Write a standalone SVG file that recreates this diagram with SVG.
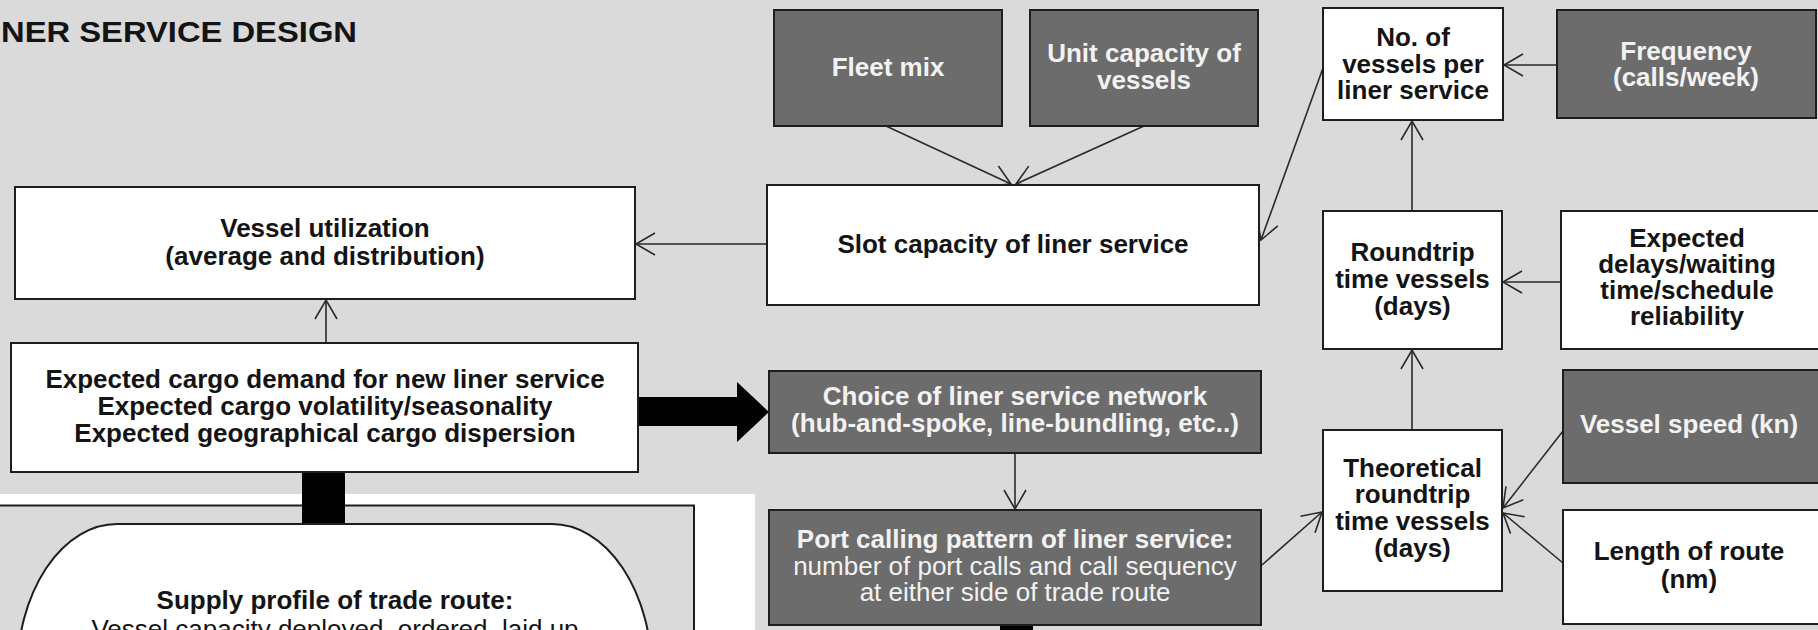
<svg xmlns="http://www.w3.org/2000/svg" width="1818" height="630" viewBox="0 0 1818 630">
<style>
text{font-family:"Liberation Sans",Arial,sans-serif;font-size:26px;text-anchor:middle;fill:#141414}
.b{font-weight:bold}
.r{font-weight:normal}
.lt{fill:#f2f2f2}
.wbox{fill:#ffffff;stroke:#1e1e1e;stroke-width:2}
.dbox{fill:#6c6c6c;stroke:#1e1e1e;stroke-width:2}
.con{fill:none;stroke:#2a2a2a;stroke-width:1.6;marker-end:url(#open)}
.thick{fill:#000000}
</style>
<defs>
<marker id="open" markerUnits="userSpaceOnUse" markerWidth="24" markerHeight="26" viewBox="-21 -13 23 26" refX="0" refY="0" orient="auto">
<path d="M-19,-11 L0,0 L-19,11" fill="none" stroke="#2a2a2a" stroke-width="1.6"/>
</marker>
</defs>
<rect x="0" y="0" width="1818" height="630" fill="#dadada"/>
<rect x="-10" y="494" width="765" height="150" fill="#ffffff"/>
<rect x="-10" y="505.5" width="704" height="150" fill="#dadada" stroke="#1e1e1e" stroke-width="2"/>
<text class="b" x="1" y="42" style="font-size:30px;text-anchor:start" textLength="356" lengthAdjust="spacingAndGlyphs">NER SERVICE DESIGN</text>

<g id="connectors">
<path class="con" d="M767,244 L636,244"/>
<path class="con" d="M886,126 L1011,184"/>
<path class="con" d="M1144,126 L1016,184"/>
<path class="con" d="M1323,68 L1261,240"/>
<path class="con" d="M1557,65 L1504,65"/>
<path class="con" d="M1412,211 L1412,121"/>
<path class="con" d="M1561,282 L1503,282"/>
<path class="con" d="M1412,430 L1412,350"/>
<path class="con" d="M1563,431 L1503,508"/>
<path class="con" d="M1563,563 L1503,513"/>
<path class="con" d="M1262,565 L1322,512"/>
<path class="con" d="M1015,453 L1015,509"/>
<path class="con" d="M326,343 L326,300"/>
<polygon class="thick" points="637,397 737,397 737,382 769,412 737,442 737,426 637,426"/>
<rect class="thick" x="302" y="472" width="43" height="53"/>
<rect class="thick" x="1000" y="625" width="33" height="10"/>
</g>

<g id="vessel-utilization">
<rect class="wbox" x="15" y="187" width="620" height="112"/>
<text class="b" x="325" y="237">Vessel utilization</text>
<text class="b" x="325" y="265">(average and distribution)</text>
</g>

<g id="expected-cargo">
<rect class="wbox" x="11" y="343" width="627" height="129"/>
<text class="b" x="325" y="388">Expected cargo demand for new liner service</text>
<text class="b" x="325" y="415">Expected cargo volatility/seasonality</text>
<text class="b" x="325" y="442">Expected geographical cargo dispersion</text>
</g>

<g id="supply-profile">
<path d="M17,700 V674 A100,150 0 0 1 117,524 H552 A100,150 0 0 1 652,674 V700 Z" fill="#ffffff" stroke="#1e1e1e" stroke-width="2"/>
<text class="b" x="335" y="609">Supply profile of trade route:</text>
<text class="r" x="335" y="638">Vessel capacity deployed, ordered, laid up</text>
</g>

<g id="fleet-mix">
<rect class="dbox" x="774" y="10" width="228" height="116"/>
<text class="b lt" x="888" y="76">Fleet mix</text>
</g>

<g id="unit-capacity">
<rect class="dbox" x="1030" y="10" width="228" height="116"/>
<text class="b lt" x="1144" y="62">Unit capacity of</text>
<text class="b lt" x="1144" y="89">vessels</text>
</g>

<g id="slot-capacity">
<rect class="wbox" x="767" y="185" width="492" height="120"/>
<text class="b" x="1013" y="253">Slot capacity of liner service</text>
</g>

<g id="no-of-vessels">
<rect class="wbox" x="1323" y="8" width="180" height="112"/>
<text class="b" x="1413" y="46">No. of</text>
<text class="b" x="1413" y="73">vessels per</text>
<text class="b" x="1413" y="99">liner service</text>
</g>

<g id="frequency">
<rect class="dbox" x="1557" y="10" width="259" height="108"/>
<text class="b lt" x="1686" y="60">Frequency</text>
<text class="b lt" x="1686" y="86">(calls/week)</text>
</g>

<g id="roundtrip">
<rect class="wbox" x="1323" y="211" width="179" height="138"/>
<text class="b" x="1412.5" y="261">Roundtrip</text>
<text class="b" x="1412.5" y="288">time vessels</text>
<text class="b" x="1412.5" y="315">(days)</text>
</g>

<g id="expected-delays">
<rect class="wbox" x="1561" y="211" width="262" height="138"/>
<text class="b" x="1687" y="247">Expected</text>
<text class="b" x="1687" y="273">delays/waiting</text>
<text class="b" x="1687" y="299">time/schedule</text>
<text class="b" x="1687" y="325">reliability</text>
</g>

<g id="choice-network">
<rect class="dbox" x="769" y="371" width="492" height="82"/>
<text class="b lt" x="1015" y="405">Choice of liner service network</text>
<text class="b lt" x="1015" y="432">(hub-and-spoke, line-bundling, etc..)</text>
</g>

<g id="port-calling">
<rect class="dbox" x="769" y="510" width="492" height="115"/>
<text class="b lt" x="1015" y="548">Port calling pattern of liner service:</text>
<text class="r lt" x="1015" y="575">number of port calls and call sequency</text>
<text class="r lt" x="1015" y="601">at either side of trade route</text>
</g>

<g id="theoretical">
<rect class="wbox" x="1323" y="430" width="179" height="161"/>
<text class="b" x="1412.5" y="477">Theoretical</text>
<text class="b" x="1412.5" y="503">roundtrip</text>
<text class="b" x="1412.5" y="530">time vessels</text>
<text class="b" x="1412.5" y="557">(days)</text>
</g>

<g id="vessel-speed">
<rect class="dbox" x="1563" y="370" width="260" height="113"/>
<text class="b lt" x="1689" y="433">Vessel speed (kn)</text>
</g>

<g id="length-route">
<rect class="wbox" x="1563" y="510" width="260" height="114"/>
<text class="b" x="1689" y="560">Length of route</text>
<text class="b" x="1689" y="588">(nm)</text>
</g>
</svg>
